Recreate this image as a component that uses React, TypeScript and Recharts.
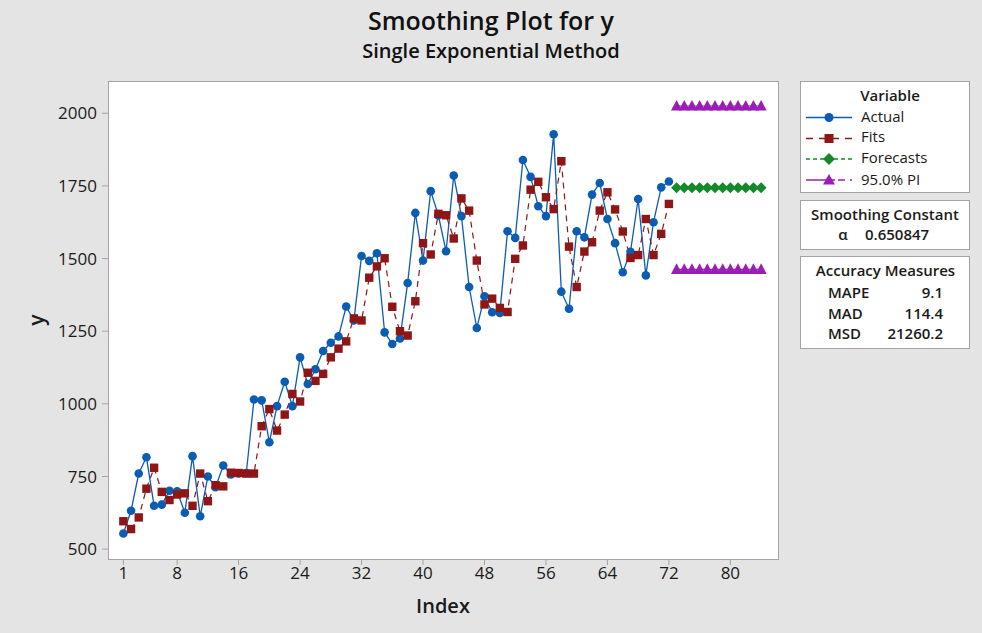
import React from 'react';
import { ComposedChart, Line, XAxis, YAxis, Label } from 'recharts';

// values
const actual = [
  554, 632, 760, 816, 649, 653, 701, 699, 625, 820, 613, 750, 713, 788, 757, 760, 762, 1015, 1012, 868,
  992, 1076, 992, 1160, 1068, 1119, 1182, 1210, 1232, 1335, 1287, 1509, 1492, 1518, 1246, 1206, 1225, 1416, 1657, 1493,
  1732, 1648, 1525, 1786, 1646, 1402, 1261, 1370, 1315, 1313, 1594, 1571, 1839, 1781, 1680, 1646, 1928, 1386, 1327, 1594,
  1573, 1720, 1760, 1636, 1553, 1453, 1523, 1705, 1442, 1625, 1745, 1765,
];
const fits = [
  596, 569, 609, 708, 780, 697, 669, 688, 692, 649, 760, 665, 720, 716, 763, 762, 760, 760, 923, 982,
  908, 963, 1034, 1008, 1107, 1079, 1103, 1160, 1190, 1215, 1294, 1287, 1434, 1473, 1501, 1334, 1250, 1235, 1353, 1553,
  1514, 1654, 1649, 1569, 1707, 1665, 1493, 1342, 1362, 1330, 1316, 1499, 1545, 1737, 1764, 1711, 1670, 1835, 1541, 1402,
  1524, 1556, 1665, 1728, 1669, 1593, 1502, 1512, 1636, 1512, 1585, 1688,
];
const forecasts = [1744, 1744, 1744, 1744, 1744, 1744, 1744, 1744, 1744, 1744, 1744, 1744];
const upperPI = [2025, 2025, 2025, 2025, 2025, 2025, 2025, 2025, 2025, 2025, 2025, 2025];
const lowerPI = [1463, 1463, 1463, 1463, 1463, 1463, 1463, 1463, 1463, 1463, 1463, 1463];
const xTicks = [1, 8, 16, 24, 32, 40, 48, 56, 64, 72, 80];
const yTicks = [500, 750, 1000, 1250, 1500, 1750, 2000];

const BLUE = '#0b5cb3';
const RED = '#8f1616';
const GREEN = '#14892a';
const PURPLE = '#9a1db5';
const FONT = '"Open Sans", "Noto Sans", sans-serif';

const rows = [];
for (let i = 0; i < actual.length + forecasts.length; i++) {
  const f = i - actual.length;
  rows.push({
    idx: i + 1,
    actual: i < actual.length ? actual[i] : null,
    fit: i < fits.length ? fits[i] : null,
    forecast: f >= 0 ? forecasts[f] : null,
    upper: f >= 0 ? upperPI[f] : null,
    lower: f >= 0 ? lowerPI[f] : null,
  });
}

const empty = (p) => p.cy == null || p.value == null || (Array.isArray(p.value) && p.value[1] == null);

const circleDot = (p) =>
  empty(p) ? <g key={'c' + p.index} /> : <circle key={'c' + p.index} cx={p.cx} cy={p.cy} r={4.3} fill={BLUE} />;
const squareDot = (p) =>
  empty(p) ? <g key={'s' + p.index} /> : <rect key={'s' + p.index} x={p.cx - 4.2} y={p.cy - 4.2} width={8.4} height={8.4} fill={RED} />;
const diamondDot = (p) =>
  empty(p) ? <g key={'d' + p.index} /> : (
    <polygon key={'d' + p.index} points={`${p.cx},${p.cy - 5.5} ${p.cx + 5.5},${p.cy} ${p.cx},${p.cy + 5.5} ${p.cx - 5.5},${p.cy}`} fill={GREEN} />
  );
const triDot = (key) => (p) =>
  empty(p) ? <g key={key + p.index} /> : (
    <polygon key={key + p.index} points={`${p.cx},${p.cy - 6} ${p.cx + 5.6},${p.cy + 4.6} ${p.cx - 5.6},${p.cy + 4.6}`} fill={PURPLE} />
  );

const LegendKey = ({ y, color, dash, children }) => (
  <g>
    <line x1={806} x2={852} y1={y} y2={y} stroke={color} strokeWidth={1.3} strokeDasharray={dash} />
    {children}
  </g>
);

export default function App() {
  return (
    <div style={{ position: 'absolute', left: 0, top: 0, width: 982, height: 633, background: '#e4e4e4', fontFamily: FONT }}>
      <div style={{ position: 'absolute', left: 108, top: 81, width: 669, height: 477, background: '#fff', border: '1px solid #a3a3a3' }} />
      <div style={{ position: 'absolute', left: 0, top: 0 }}>
        <ComposedChart width={982} height={633} data={rows} margin={{ top: 81, right: 204, bottom: 0, left: 0 }}>
          <XAxis
            type="number"
            dataKey="idx"
            domain={[-1, 86.2]}
            ticks={xTicks}
            allowDataOverflow
            height={74}
            axisLine={false}
            tickLine={{ stroke: '#a3a3a3' }}
            tickSize={6}
            tickMargin={2}
            tick={{ fill: '#1a1a1a', fontSize: 17, fontFamily: FONT }}
          >
            <Label value="Index" position="insideBottom" offset={20} style={{ fill: '#1a1a1a', fontSize: 20, fontWeight: 600, fontFamily: FONT }} />
          </XAxis>
          <YAxis
            type="number"
            domain={[466, 2111]}
            ticks={yTicks}
            allowDataOverflow
            width={108}
            axisLine={false}
            tickLine={{ stroke: '#a3a3a3' }}
            tickSize={6}
            tickMargin={5}
            tick={{ fill: '#1a1a1a', fontSize: 17, fontFamily: FONT }}
          >
            <Label
              content={({ viewBox }) => {
                const cx = viewBox.x + 36;
                const cy = viewBox.y + viewBox.height / 2;
                return (
                  <text x={cx} y={cy} transform={`rotate(-90 ${cx} ${cy})`} textAnchor="middle" dominantBaseline="central"
                    style={{ fill: '#1a1a1a', fontSize: 21, fontWeight: 600, fontFamily: FONT }}>y</text>
                );
              }}
            />
          </YAxis>
          <Line dataKey="actual" stroke={BLUE} strokeWidth={1.3} dot={circleDot} activeDot={false} isAnimationActive={false} />
          <Line dataKey="fit" stroke={RED} strokeWidth={1.2} strokeDasharray="6 5" dot={squareDot} activeDot={false} isAnimationActive={false} />
          <Line dataKey="forecast" stroke={GREEN} strokeWidth={1.2} strokeDasharray="3 3" dot={diamondDot} activeDot={false} isAnimationActive={false} />
          <Line dataKey="upper" stroke={PURPLE} strokeWidth={1.2} dot={triDot('u')} activeDot={false} isAnimationActive={false} />
          <Line dataKey="lower" stroke={PURPLE} strokeWidth={1.2} dot={triDot('l')} activeDot={false} isAnimationActive={false} />
        </ComposedChart>
      </div>
      <svg width={982} height={633} style={{ position: 'absolute', left: 0, top: 0, pointerEvents: 'none' }} fontFamily={FONT}>
        <text x={491} y={30} textAnchor="middle" fontSize={25} fontWeight={600} fill="#111">Smoothing Plot for y</text>
        <text x={491} y={58} textAnchor="middle" fontSize={20} fontWeight={600} fill="#111">Single Exponential Method</text>

        <rect x={800.5} y={81.5} width={169} height={111} fill="#fff" stroke="#a3a3a3" />
        <text x={890} y={101} textAnchor="middle" fontSize={15} fontWeight={600} fill="#1a1a1a">Variable</text>
        <LegendKey y={117.5} color={BLUE}>
          <circle cx={829} cy={117.5} r={4.5} fill={BLUE} />
        </LegendKey>
        <text x={861} y={122} fontSize={15} fill="#1a1a1a">Actual</text>
        <LegendKey y={138.5} color={RED} dash="7 6">
          <rect x={824.5} y={134} width={9} height={9} fill={RED} />
        </LegendKey>
        <text x={861} y={142} fontSize={15} fill="#1a1a1a">Fits</text>
        <LegendKey y={159} color={GREEN} dash="4 3">
          <polygon points="829,153 835,159 829,165 823,159" fill={GREEN} />
        </LegendKey>
        <text x={861} y={162.5} fontSize={15} fill="#1a1a1a">Forecasts</text>
        <LegendKey y={180} color={PURPLE} dash="14 0 0 0">
          <line x1={835} x2={852} y1={180} y2={180} stroke="#fff" strokeWidth={2} />
          <line x1={838} x2={852} y1={180} y2={180} stroke={PURPLE} strokeWidth={1.3} strokeDasharray="7 5" />
          <polygon points="829,174 835,184.5 823,184.5" fill={PURPLE} />
        </LegendKey>
        <text x={861} y={184.5} fontSize={15} fill="#1a1a1a">95.0% PI</text>

        <rect x={800.5} y={200.5} width={169} height={49} fill="#fff" stroke="#a3a3a3" />
        <text x={885} y={219.5} textAnchor="middle" fontSize={15} fontWeight={600} fill="#1a1a1a">Smoothing Constant</text>
        <text x={843} y={240} textAnchor="middle" fontSize={15} fontWeight={600} fill="#1a1a1a">α</text>
        <text x={865} y={240} fontSize={15} fontWeight={600} fill="#1a1a1a">0.650847</text>

        <rect x={800.5} y={256.5} width={169} height={92} fill="#fff" stroke="#a3a3a3" />
        <text x={885.5} y={276} textAnchor="middle" fontSize={15} fontWeight={600} fill="#1a1a1a">Accuracy Measures</text>
        <text x={828} y={298} fontSize={15} fontWeight={600} fill="#1a1a1a">MAPE</text>
        <text x={943} y={298} textAnchor="end" fontSize={15} fontWeight={600} fill="#1a1a1a">9.1</text>
        <text x={828} y={318.5} fontSize={15} fontWeight={600} fill="#1a1a1a">MAD</text>
        <text x={943} y={318.5} textAnchor="end" fontSize={15} fontWeight={600} fill="#1a1a1a">114.4</text>
        <text x={828} y={338.5} fontSize={15} fontWeight={600} fill="#1a1a1a">MSD</text>
        <text x={943} y={338.5} textAnchor="end" fontSize={15} fontWeight={600} fill="#1a1a1a">21260.2</text>
      </svg>
    </div>
  );
}
